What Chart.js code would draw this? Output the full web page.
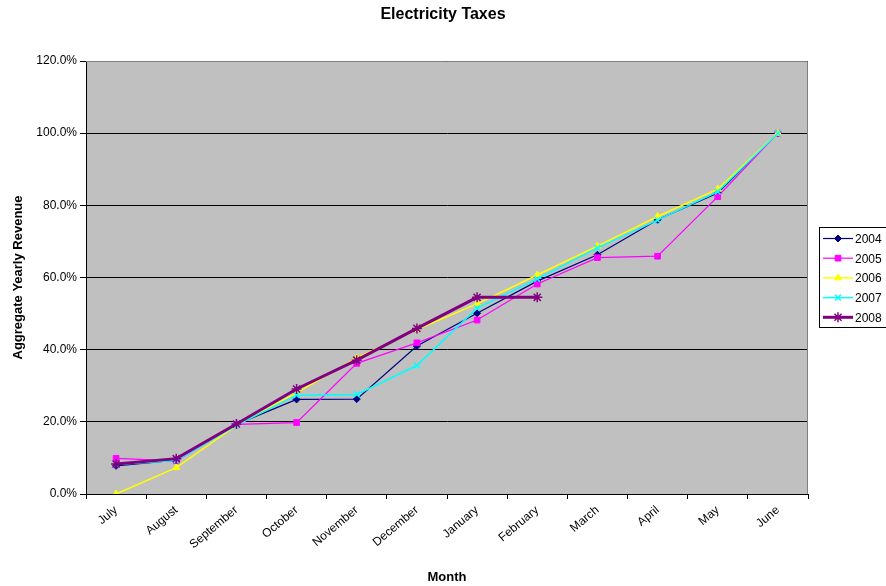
<!DOCTYPE html>
<html>
<head>
<meta charset="utf-8">
<title>Electricity Taxes</title>
<script src="https://cdn.jsdelivr.net/npm/chart.js@4/dist/chart.umd.min.js"></script>
<style>
  html, body { margin: 0; padding: 0; background: #ffffff; }
  #wrap { width: 886px; height: 586px; }
</style>
</head>
<body>
<div id="wrap"><canvas id="chart" width="886" height="586"></canvas></div>
<script>
// Fiscal-year months
const months = ['July', 'August', 'September', 'October', 'November', 'December',
                'January', 'February', 'March', 'April', 'May', 'June'];

// Cumulative share of yearly revenue (%) by fiscal year
const y2004 = [7.8, 9.4, 19.3, 26.2, 26.3, 41.0, 50.1, 59.0, 66.3, 76.0, 83.4, 100.0];
const y2005 = [9.9, 9.2, 19.3, 19.8, 36.2, 41.9, 48.2, 58.2, 65.5, 65.9, 82.4, 100.0];
const y2006 = [0.0, 7.3, 19.0, 28.0, 37.7, 45.6, 52.7, 60.7, 68.7, 76.9, 84.5, 100.0];
const y2007 = [8.2, 9.3, 19.0, 27.4, 27.6, 35.6, 51.5, 59.6, 68.2, 75.9, 83.8, 100.0];
const y2008 = [8.3, 9.8, 19.4, 29.1, 37.1, 45.9, 54.5, 54.5, null, null, null, null];

const yTicks = [0, 20, 40, 60, 80, 100, 120];

const chartTitle = 'Electricity Taxes';

const FONT = '"Liberation Sans", Arial, sans-serif';

function series(label, data, color, style, radius, width, order) {
  return {
    label, data, order,
    borderColor: color,
    backgroundColor: color,
    borderWidth: width,
    pointStyle: style,
    pointRadius: radius,
    pointHoverRadius: radius,
    pointBorderColor: color,
    pointBackgroundColor: color,
    pointBorderWidth: style === 'crossRot' || style === 'star' ? 1.5 : 1,
    tension: 0,
    spanGaps: false
  };
}

const datasets = [
  series('2004', y2004, '#000080', 'rectRot', 3.5, 1.2, 5),
  series('2005', y2005, '#FF00FF', 'rect', 4, 1.2, 4),
  series('2006', y2006, '#FFFF00', 'triangle', 4, 1.5, 3),
  series('2007', y2007, '#00FFFF', 'crossRot', 4, 1.5, 2),
  series('2008', y2008, '#800080', 'star', 5, 3, 1)
];

// Grey plot background, plot frame and the centred chart title
const plotBackground = {
  id: 'plotBackground',
  beforeDraw(chart) {
    const { ctx, chartArea: a } = chart;
    ctx.save();
    ctx.fillStyle = '#C0C0C0';
    ctx.fillRect(a.left, a.top, a.right - a.left, a.bottom - a.top);
    ctx.fillStyle = '#000000';
    ctx.font = 'bold 16px ' + FONT;
    ctx.textAlign = 'center';
    ctx.textBaseline = 'middle';
    ctx.fillText(chartTitle, chart.width / 2, 15);
    ctx.restore();
  },
  beforeDatasetsDraw(chart) {
    const { ctx, chartArea: a } = chart;
    ctx.save();
    ctx.strokeStyle = '#808080';
    ctx.lineWidth = 1;
    ctx.beginPath();
    ctx.moveTo(a.left, a.top + 0.5);
    ctx.lineTo(a.right - 0.5, a.top + 0.5);
    ctx.lineTo(a.right - 0.5, a.bottom);
    ctx.stroke();
    ctx.restore();
  }
};

function marker(ctx, style, x, y, r, color, bw) {
  ctx.save();
  ctx.fillStyle = color;
  ctx.strokeStyle = color;
  ctx.lineWidth = bw;
  if (Chart.helpers && Chart.helpers.drawPoint) {
    Chart.helpers.drawPoint(ctx, { pointStyle: style, radius: r, borderWidth: bw, rotation: 0 }, x, y);
  }
  ctx.restore();
}

// Boxed legend to the right of the plot
const sideLegend = {
  id: 'sideLegend',
  afterDraw(chart) {
    const { ctx } = chart;
    const boxL = 819, boxT = 227, boxB = 327;
    ctx.save();
    ctx.fillStyle = '#ffffff';
    ctx.fillRect(boxL, boxT, 900 - boxL, boxB - boxT);
    ctx.strokeStyle = '#000000';
    ctx.lineWidth = 1;
    ctx.strokeRect(boxL + 0.5, boxT + 0.5, 900 - boxL, boxB - boxT);
    ctx.font = '12px ' + FONT;
    ctx.textBaseline = 'middle';
    ctx.textAlign = 'left';
    chart.data.datasets.forEach((ds, i) => {
      const y = 238.5 + i * 19.7;
      ctx.strokeStyle = ds.borderColor;
      ctx.lineWidth = ds.borderWidth;
      ctx.beginPath();
      ctx.moveTo(823, y);
      ctx.lineTo(853, y);
      ctx.stroke();
      marker(ctx, ds.pointStyle, 838, y, ds.pointRadius, ds.borderColor, ds.pointBorderWidth);
      ctx.fillStyle = '#000000';
      ctx.fillText(ds.label, 855, y + 1);
    });
    ctx.restore();
  }
};

new Chart(document.getElementById('chart'), {
  type: 'line',
  data: { labels: months, datasets },
  options: {
    responsive: false,
    animation: false,
    events: [],
    layout: { padding: { left: 0, top: 61, right: 78, bottom: 0 } },
    plugins: {
      legend: { display: false },
      tooltip: { enabled: false },
      title: { display: false }
    },
    scales: {
      x: {
        type: 'category',
        offset: true,
        grid: { offset: true, drawOnChartArea: false, drawTicks: true, tickLength: 5, color: '#000000' },
        border: { display: true, color: '#000000', width: 1 },
        ticks: {
          autoSkip: false, minRotation: 40, maxRotation: 40,
          color: '#000000', padding: 4,
          font: { family: FONT, size: 12 }
        },
        title: {
          display: true, text: 'Month', color: '#000000',
          font: { family: FONT, size: 13, weight: 'bold' },
          padding: { top: 0, bottom: 1 }
        },
        afterFit(scale) { scale.height = 92; }
      },
      y: {
        min: 0, max: 120,
        afterBuildTicks(scale) { scale.ticks = yTicks.map(v => ({ value: v })); },
        grid: { color: '#000000', lineWidth: 1, drawTicks: true, tickLength: 6 },
        border: { display: true, color: '#000000', width: 1 },
        ticks: {
          color: '#000000', padding: 3,
          font: { family: FONT, size: 12 },
          callback: v => Number(v).toFixed(1) + '%'
        },
        title: {
          display: true, text: 'Aggregate Yearly Revenue', color: '#000000',
          font: { family: FONT, size: 13, weight: 'bold' },
          padding: { top: 11, bottom: 0 }
        },
        afterFit(scale) { scale.width = 86; }
      }
    }
  },
  plugins: [plotBackground, sideLegend]
});
</script>
</body>
</html>
